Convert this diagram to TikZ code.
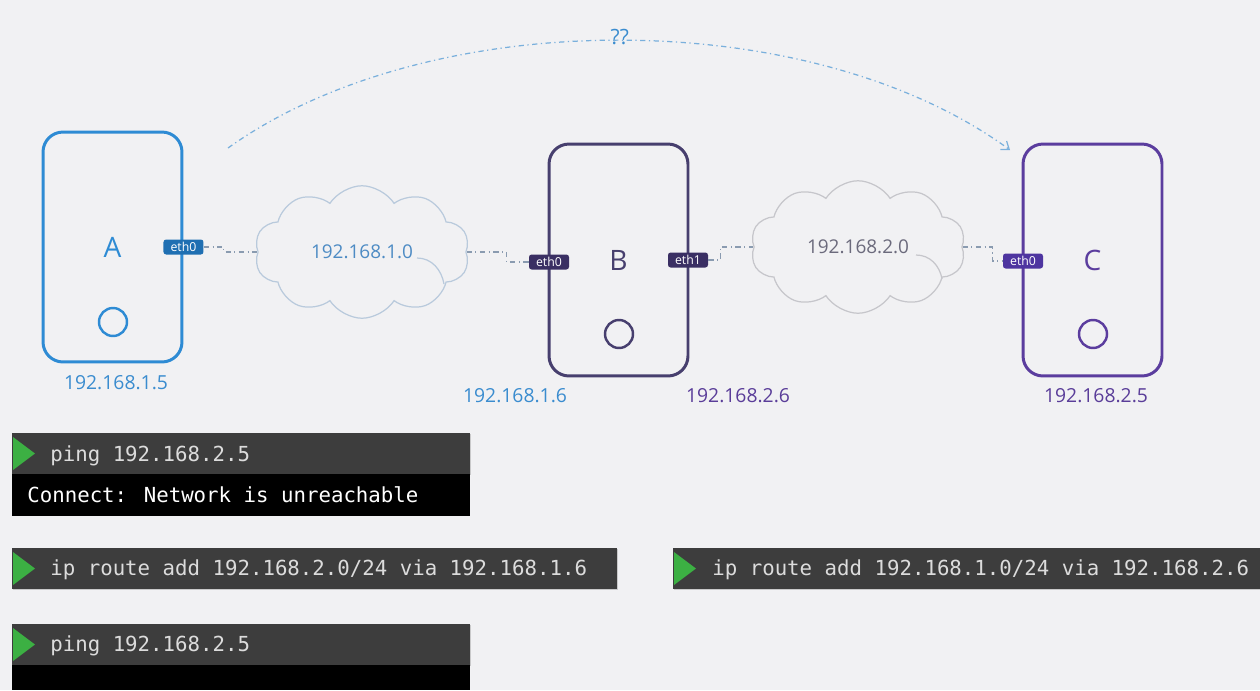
\documentclass[tikz,border=0pt]{standalone}
\usepackage{fontspec}
\setmainfont{Open Sans}
\newfontfamily\termfont{DejaVu Sans Mono}
\usetikzlibrary{shapes.symbols,arrows.meta,shadows,calc}

\definecolor{bg}{RGB}{241,241,243}
\definecolor{hostA}{HTML}{2E8BD4}
\definecolor{portA}{HTML}{1F6FB2}
\definecolor{hostB}{HTML}{473F6E}
\definecolor{portB}{HTML}{3A2F63}
\definecolor{hostC}{HTML}{5B3D9E}
\definecolor{portC}{HTML}{4E35A0}
\definecolor{ipblue}{HTML}{3A8CCF}
\definecolor{ippurple}{HTML}{5A3D99}
\definecolor{cloudone}{HTML}{B9CADC}
\definecolor{cloudtwo}{HTML}{C6C6CB}
\definecolor{netone}{HTML}{4D8BC4}
\definecolor{nettwo}{HTML}{6B6A7C}
\definecolor{linkgray}{HTML}{8A9BB0}
\definecolor{querycol}{HTML}{7AB0DC}
\definecolor{termgray}{HTML}{3D3D3D}
\definecolor{cmdtext}{HTML}{DCDCDC}
\definecolor{prompt}{HTML}{3CB043}

\begin{document}
\begin{tikzpicture}[x=0.02cm,y=-0.02cm,
  host/.style={draw, line width=1.7pt, rounded corners=0.4cm,
    minimum width=2.78cm, inner sep=0pt, font=\fontsize{16}{19}\selectfont},
  ring/.style={circle, draw, line width=1.4pt, minimum size=0.56cm, inner sep=0pt},
  port/.style={rounded corners=1.5pt, minimum width=0.8cm, minimum height=0.3cm,
    inner sep=0pt, text=white, font=\fontsize{7}{8}\selectfont},
  iplabel/.style={font=\fontsize{11}{13}\selectfont, inner sep=0pt},
  net/.style={cloud, cloud puffs=10, cloud puff arc=115, aspect=1.6,
    line width=0.7pt, minimum width=4.3cm, minimum height=2.65cm,
    inner sep=0pt, font=\fontsize{10.8}{13}\selectfont},
  curl/.style={line width=0.7pt},
  link/.style={draw=linkgray, line width=0.6pt, dash dot},
  query/.style={draw=querycol, line width=0.7pt, dash dot,
    -{Straight Barb[length=4pt,width=6pt]}},
  termhead/.style={fill=termgray, minimum height=0.82cm, inner sep=0pt,
    drop shadow={shadow xshift=0.8pt, shadow yshift=-0.8pt, opacity=0.35}},
  termbody/.style={fill=black, inner sep=0pt},
  cmd/.style={anchor=west, inner sep=0pt, text=cmdtext,
    font=\termfont\fontsize{11.8}{14}\selectfont},
]
% background
\fill[bg] (0,0) rectangle (1260,690);
\useasboundingbox (0,0) rectangle (1260,690);

% hosts
\node[host, draw=hostA, text=hostA, minimum height=4.6cm] (A) at (112.5,247) {A};
\node[host, draw=hostB, text=hostB, minimum height=4.64cm] (B) at (618.5,260) {B};
\node[host, draw=hostC, text=hostC, minimum height=4.64cm] (C) at (1092.5,260) {C};

\node[ring, draw=hostA] (Aring) at (113,322) {};
\node[ring, draw=hostB] (Bring) at (619,334) {};
\node[ring, draw=hostC] (Cring) at (1093,334) {};

% interfaces
\node[port, fill=portA] (Aeth0) at (A.east) {eth0};
\node[port, fill=portB] (Beth0) at (549,262) {eth0};
\node[port, fill=portB] (Beth1) at (688,260) {eth1};
\node[port, fill=portC] (Ceth0) at (1023,261) {eth0};

% addresses
\node[iplabel, text=ipblue] (Aip) at (116,383) {192.168.1.5};
\node[iplabel, text=ipblue] (Bip1) at (515,396) {192.168.1.6};
\node[iplabel, text=ippurple] (Bip2) at (738,396) {192.168.2.6};
\node[iplabel, text=ippurple] (Cip) at (1096,396) {192.168.2.5};

% networks
\node[net, draw=cloudone, text=netone] (N1) at (362,252) {192.168.1.0};
\node[net, draw=cloudtwo, text=nettwo] (N2) at (858,247) {192.168.2.0};
\draw[curl, cloudone] ($(N1.center)+(55,6)$) to[out=0,in=100] ($(N1.center)+(82,32)$);
\draw[curl, cloudtwo] ($(N2.center)+(58,8)$) to[out=0,in=100] ($(N2.center)+(84,32)$);

% links
\draw[link] (Aeth0.east) -- ++(20,0) |- (N1.west);
\draw[link] (N1.east) -- ++(40,0) |- (Beth0.west);
\draw[link] (Beth1.east) -- ++(12,0) |- (N2.west);
\draw[link] (N2.east) -- ++(30,0) |- (Ceth0.west);

% unresolved route A -> C
\coordinate (qs) at (228,148);
\coordinate (qe) at (1010,150);
\draw[query] (qs) .. controls (430,4) and (810,4) .. (qe)
  node[pos=0.5, yshift=2pt, text=ipblue, inner sep=0pt,
       font=\fontsize{12}{14}\selectfont] (qq) {??};

% terminal 1
\node[termhead, minimum width=9.16cm] (t1) at (241,453.5) {};
\node[termbody, minimum width=9.16cm, minimum height=0.84cm] (t1b) at (241,495) {};
\fill[prompt] (13,437) -- (35,453.5) -- (13,470) -- cycle;
\node[cmd] (c1) at (50,456) {ping 192.168.2.5};
\node[cmd, text=white] (o1) at (27,495) {Connect: Network is unreachable};

% terminal 2
\node[termhead, minimum width=12.1cm] (t2) at (314.5,568.5) {};
\fill[prompt] (13,552) -- (35,568.5) -- (13,585) -- cycle;
\node[cmd] (c2) at (50,570) {ip route add 192.168.2.0/24 via 192.168.1.6};

% terminal 3
\node[termhead, minimum width=11.74cm] (t3) at (966.5,568.5) {};
\fill[prompt] (674,552) -- (696,568.5) -- (674,585) -- cycle;
\node[cmd] (c3) at (712,570) {ip route add 192.168.1.0/24 via 192.168.2.6};

% terminal 4
\node[termhead, minimum width=9.16cm] (t4) at (241,644.5) {};
\node[termbody, minimum width=9.16cm, minimum height=0.5cm] (t4b) at (241,677.5) {};
\fill[prompt] (13,628) -- (35,644.5) -- (13,661) -- cycle;
\node[cmd] (c4) at (50,646) {ping 192.168.2.5};
\end{tikzpicture}
\end{document}
